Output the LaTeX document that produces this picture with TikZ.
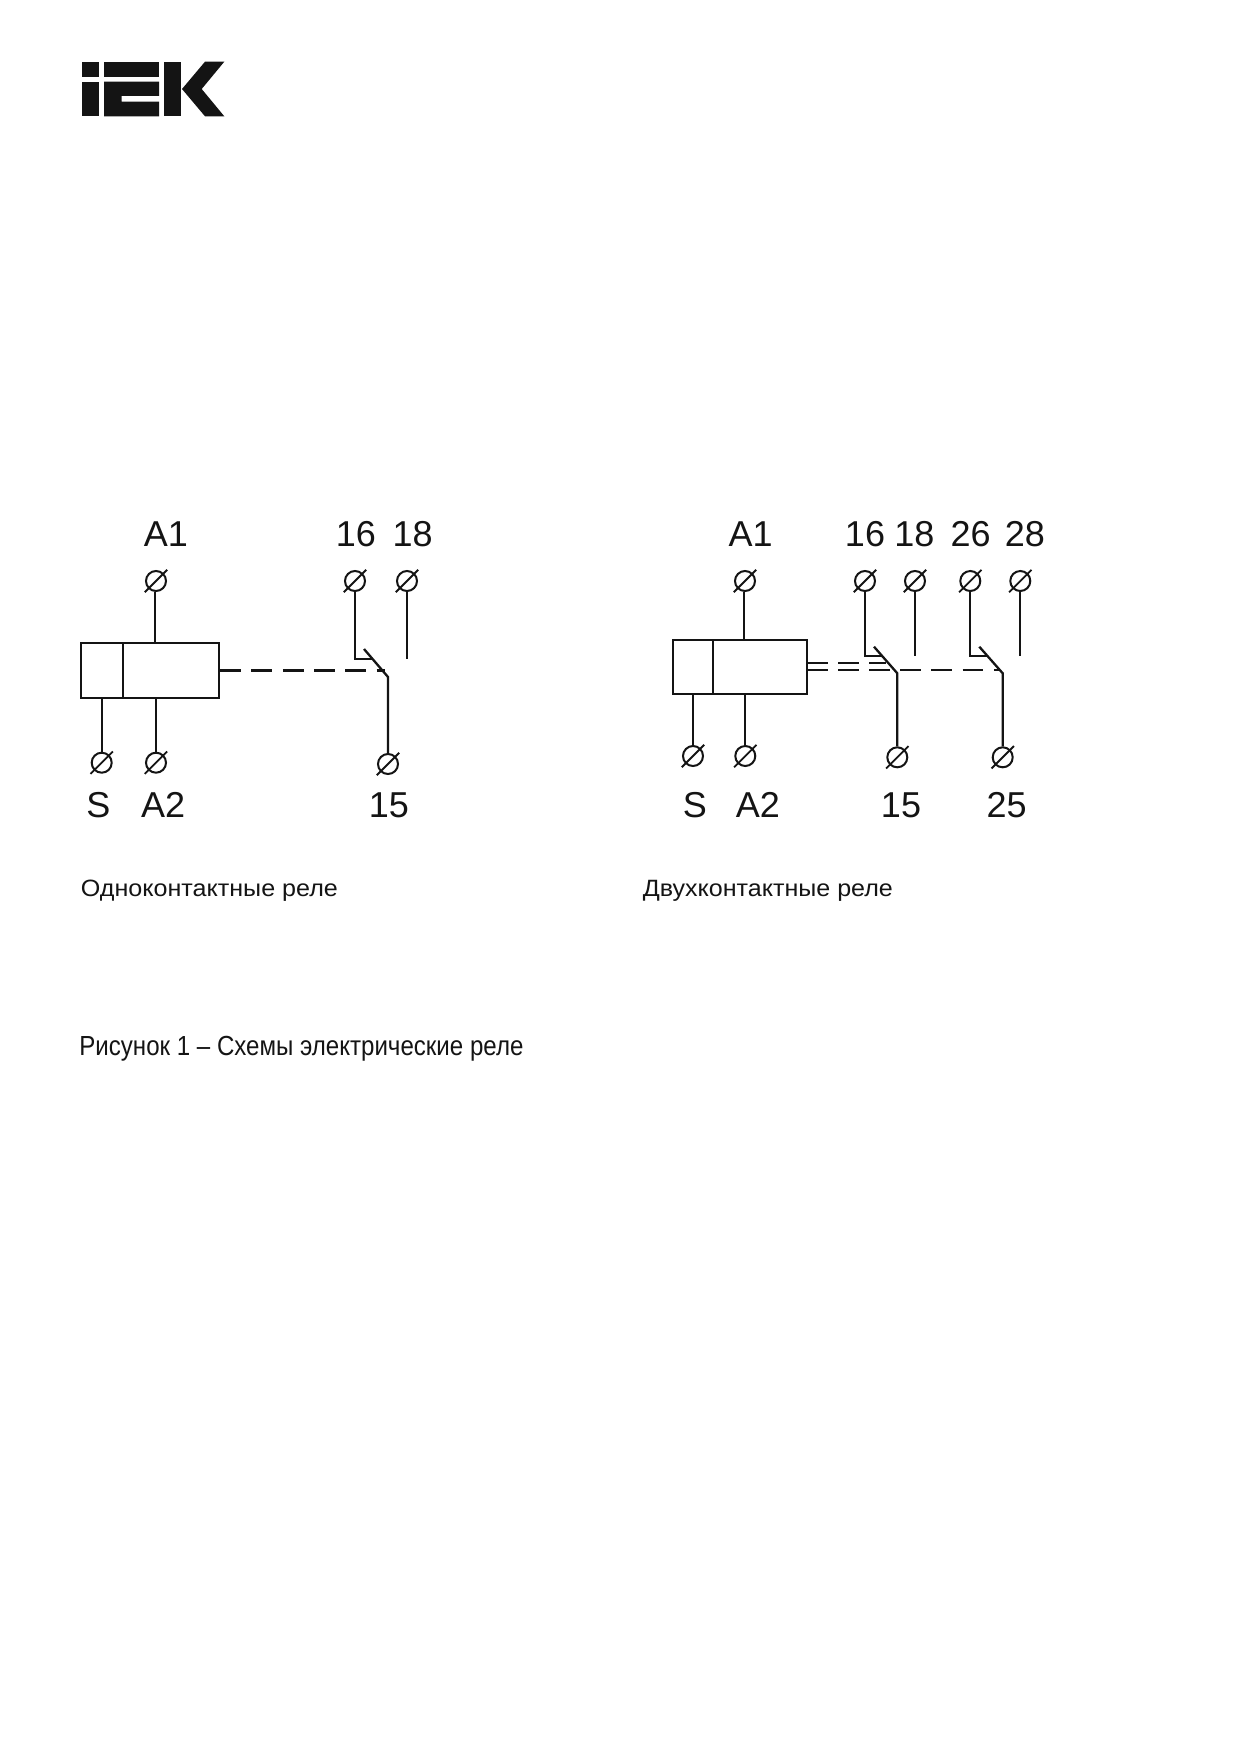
\documentclass[tikz,border=0pt]{standalone}
\usepackage{graphicx}
\usepackage{fontspec}
\setmainfont{Liberation Sans}
\usetikzlibrary{calc}
\definecolor{ink}{HTML}{141414}
\newcommand{\fitw}[2]{\resizebox{#1}{\height}{#2}}
\tikzset{
  wire/.style={draw=ink,line width=1.15pt,line join=miter},
  thinwire/.style={draw=ink,line width=.9pt},
  term/.style={circle,draw=ink,line width=1pt,inner sep=0pt,minimum size=10pt,fill=none},
  coil/.style={draw=ink,line width=1.15pt,inner sep=0pt},
  pinlabel/.style={text=ink,inner sep=0pt,anchor=base,font=\fontsize{18pt}{20pt}\selectfont},
  captext/.style={text=ink,inner sep=0pt,anchor=base west},
  dashline/.style={draw=ink,line width=1.15pt,dash pattern=on 10.4pt off 5.25pt},
  logopart/.style={fill=ink,draw=none}
}
\begin{document}
\begin{tikzpicture}[x=0.5pt,y=-0.5pt]
\useasboundingbox[fill=white] (0,0) rectangle (1236,1750);
% logo
\fill[logopart] (81.7,61.7) rectangle (99,76.7);
\fill[logopart] (81.7,81.7) rectangle (99,116.3);
\fill[logopart] (104,61.7) rectangle (159,76.7);
\fill[logopart] (104,81.7) -- (159,81.7) -- (159,96) -- (121.7,96) -- (121.7,101.7) -- (159,101.7) -- (159,116.3) -- (104,116.3) -- cycle;
\fill[logopart] (164,61.7) rectangle (181.3,116.3);
\fill[logopart] (205,61.7) -- (224.3,61.7) -- (201.7,89) -- (224.3,116.3) -- (205,116.3) -- (182,89) -- cycle;

% ===== left diagram =====
\node[coil,minimum width=69pt,minimum height=27.5pt] (coilL) at (150,670.5) {};
\coordinate (divLt) at (123.3,643);
\coordinate (divLb) at (123.3,698);
\draw[wire] (divLt) -- (divLb);
\foreach \n/\x/\y in {lA1/156/581,l16/355/581,l18/407/581,lS/101.7/762.7,lA2/156/762.7,l15/388/764}
  \node[term] (\n) at (\x,\y) {};
\foreach \n in {lA1,l16,l18,lS,lA2,l15}
  \draw[thinwire] (\n.center) ++(-11.2,11.2) -- ++(22.4,-22.4);
\draw[wire] ([xshift=-.6pt]lA1.south) -- ([xshift=-.6pt]lA1.south |- coilL.north);
\draw[wire] (lS.north) -- (lS.north |- coilL.south);
\draw[wire] (lA2.north) -- (lA2.north |- coilL.south);
\coordinate (lbs) at (364,649);
\coordinate (lhinge) at (388,677);
\coordinate (larm) at (372.8,659.3);
\coordinate (l18end) at (407,659);
\draw[wire] (lbs) -- (lhinge) -- (l15.north);
\draw[wire] (l16.south) |- (larm);
\draw[thinwire] (l18.south) -- (l18end);
\coordinate (ldash) at (385,670.5);
\draw[dashline] (coilL.east) -- (ldash);

\node[pinlabel] (tlA1) at (165.8,546.7) {A1};
\node[pinlabel] (tl16) at (355.8,546.7) {16};
\node[pinlabel] (tl18) at (412.7,546.7) {18};
\node[pinlabel] (tlS) at (98.3,817.7) {S};
\node[pinlabel] (tlA2) at (163.2,817.7) {A2};
\node[pinlabel] (tl15) at (388.8,817.7) {15};

% ===== right diagram =====
\node[coil,minimum width=66.85pt,minimum height=26.7pt] (coilR) at (739.85,667) {};
\coordinate (divRt) at (713.3,640.3);
\coordinate (divRb) at (713.3,693.7);
\draw[wire] (divRt) -- (divRb);
\foreach \n/\x/\y in {rA1/745/581,r16/865/581,r18/915/581,r26/970.3/581,r28/1020.3/581,rS/693/756,rA2/745.3/756,r15/897.3/757.3,r25/1002.7/757.3}
  \node[term] (\n) at (\x,\y) {};
\foreach \n in {rA1,r16,r18,r26,r28,rS,rA2,r15,r25}
  \draw[thinwire] (\n.center) ++(-11.2,11.2) -- ++(22.4,-22.4);
\draw[wire] ([xshift=-.5pt]rA1.south) -- ([xshift=-.5pt]rA1.south |- coilR.north);
\draw[wire] (rS.north) -- (rS.north |- coilR.south);
\draw[wire] (rA2.north) -- (rA2.north |- coilR.south);
\coordinate (rbs1) at (874,646.7);
\coordinate (rh1) at (897.3,673.3);
\coordinate (rarm1) at (881.9,655.7);
\coordinate (rbs2) at (979.3,646.7);
\coordinate (rh2) at (1002.7,673.3);
\coordinate (rarm2) at (987.2,655.7);
\draw[wire] (rbs1) -- (rh1) -- (r15.north);
\draw[wire] (rbs2) -- (rh2) -- (r25.north);
\draw[wire] (r16.south) |- (rarm1);
\draw[wire] (r26.south) |- (rarm2);
\coordinate (r18end) at (915,655.7);
\coordinate (r28end) at (1020.3,655.7);
\draw[wire] (r18.south) -- (r18end);
\draw[wire] (r28.south) -- (r28end);
\coordinate (rd1a) at (806.7,662.7);
\coordinate (rd1b) at (886,662.7);
\coordinate (rd2a) at (806.7,670);
\coordinate (rd2b) at (890,670);
\coordinate (rd3a) at (900,670);
\coordinate (rd3b) at (1000,670);
\draw[dashline] (rd1a) -- (rd1b);
\draw[dashline] (rd2a) -- (rd2b);
\draw[dashline] (rd3a) -- (rd3b);

\node[pinlabel] (trA1) at (750.6,546.7) {A1};
\node[pinlabel] (tr16) at (865,546.7) {16};
\node[pinlabel] (tr18) at (914.3,546.7) {18};
\node[pinlabel] (tr26) at (970.7,546.7) {26};
\node[pinlabel] (tr28) at (1024.8,546.7) {28};
\node[pinlabel] (trS) at (694.8,817.7) {S};
\node[pinlabel] (trA2) at (757.8,817.7) {A2};
\node[pinlabel] (tr15) at (901,817.7) {15};
\node[pinlabel] (tr25) at (1006.7,817.7) {25};

% captions
\node[captext] (capL) at (80.5,896.7) {\fitw{128.5pt}{\fontsize{11.8pt}{13pt}\selectfont Одноконтактные реле}};
\node[captext] (capR) at (642.5,896.7) {\fitw{125pt}{\fontsize{11.8pt}{13pt}\selectfont Двухконтактные реле}};
\node[captext] (capF) at (79,1055) {\fitw{222pt}{\fontsize{13.8pt}{15pt}\selectfont Рисунок 1 – Схемы электрические реле}};
\end{tikzpicture}
\end{document}
